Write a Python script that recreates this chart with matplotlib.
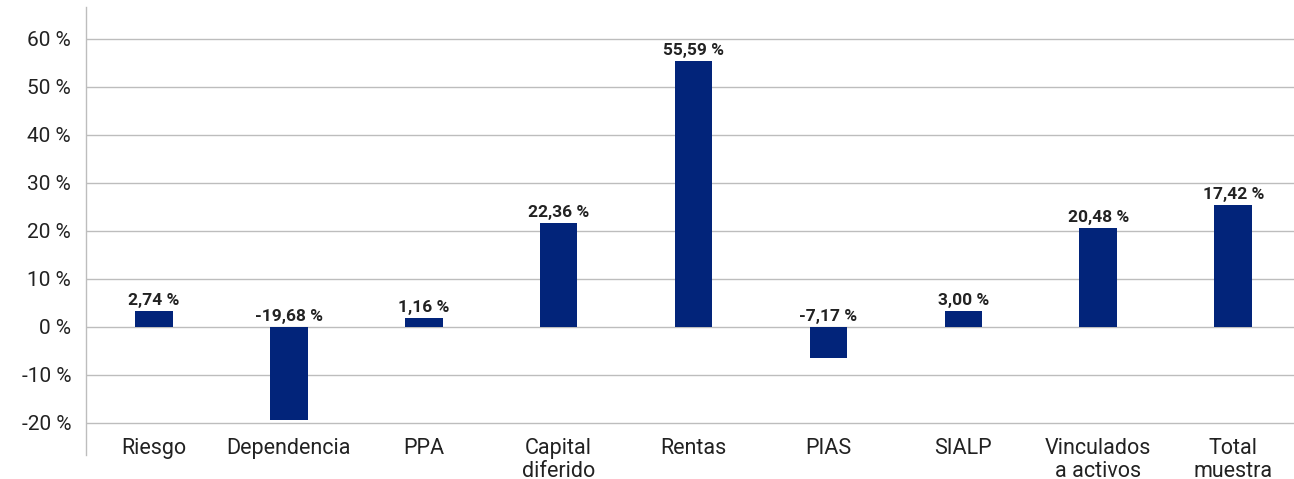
#!/usr/bin/env python3
"""Bar chart: variación por modalidad (valores en %)."""

import matplotlib
matplotlib.use("Agg")
import matplotlib.pyplot as plt

# ---- Datos -----------------------------------------------------------------
CATEGORIES = [
    "Riesgo", "Dependencia", "PPA", "Capital\ndiferido", "Rentas",
    "PIAS", "SIALP", "Vinculados\na activos", "Total\nmuestra",
]
# alturas de barra
BAR_VALUES = [3.27, -19.4, 1.8, 21.6, 55.35, -6.45, 3.27, 20.56, 25.35]
# etiquetas tal como aparecen impresas
VALUE_LABELS = [
    "2,74 %", "-19,68 %", "1,16 %", "22,36 %", "55,59 %",
    "-7,17 %", "3,00 %", "20,48 %", "17,42 %",
]
Y_TICKS = [-20, -10, 0, 10, 20, 30, 40, 50, 60]

BAR_COLOR = "#02247A"
GRID_COLOR = "#BDBDBD"
TEXT_COLOR = "#222222"

plt.rcParams["font.family"] = ["Roboto", "DejaVu Sans"]


def main() -> None:
    fig = plt.figure(figsize=(12.94, 4.79), dpi=100)
    ax = fig.add_axes([0.0667, 0.0501, 0.9333, 0.9353])

    xs = list(range(len(CATEGORIES)))
    ax.bar(xs, BAR_VALUES, width=0.28, color=BAR_COLOR, zorder=3)

    for x, val, lab in zip(xs, BAR_VALUES, VALUE_LABELS):
        base = max(val, 0)
        ax.annotate(lab, (x, base), xytext=(0, 4.3), textcoords="offset points",
                    ha="center", va="baseline", fontsize=12.5, fontweight="bold",
                    color=TEXT_COLOR, zorder=4)

    ax.set_xlim(-0.5, 8.45)
    ax.set_ylim(-26.7, 66.6)
    ax.set_yticks(Y_TICKS)
    ax.set_yticklabels([f"{t} %" for t in Y_TICKS])
    ax.set_xticks(xs)
    ax.set_xticklabels(CATEGORIES, linespacing=1.12)

    ax.grid(axis="y", color=GRID_COLOR, linewidth=1.0, zorder=0)
    ax.set_axisbelow(True)
    for side in ("top", "right", "bottom"):
        ax.spines[side].set_visible(False)
    ax.spines["left"].set_color(GRID_COLOR)
    ax.spines["left"].set_linewidth(1.0)

    ax.tick_params(axis="y", length=0, pad=11, labelsize=15, labelcolor=TEXT_COLOR)
    ax.tick_params(axis="x", length=0, pad=-12.5, labelsize=15.5, labelcolor=TEXT_COLOR)
    for lbl in ax.get_xticklabels():
        lbl.set_verticalalignment("top")

    fig.savefig("out.png", dpi=100)


if __name__ == "__main__":
    main()
